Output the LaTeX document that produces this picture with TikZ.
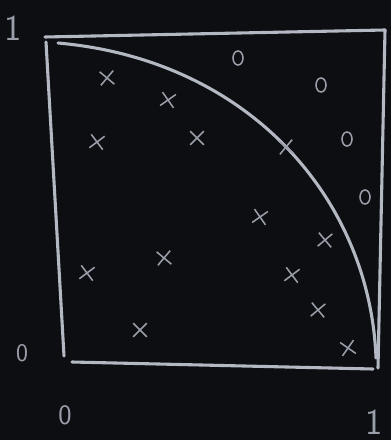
\documentclass[tikz,border=0pt]{standalone}
\usetikzlibrary{shapes.misc}
\definecolor{board}{HTML}{0C0E12}
\definecolor{chalk}{HTML}{B4B8C2}
\definecolor{dimchalk}{HTML}{9A9EA8}

\begin{document}
\begin{tikzpicture}[x=0.025cm,y=-0.025cm,
    frame/.style={chalk,line width=2.2pt,line cap=round},
    hit/.style={cross out,draw=dimchalk,line width=1.1pt,minimum size=0.3cm,inner sep=0pt},
    miss/.style={dimchalk,line width=1.1pt},
    lbl/.style={text=dimchalk,inner sep=0pt,font=\sffamily\fontsize{26}{26}\selectfont}]
    % chalkboard
    \fill[board] (0,0) rectangle (391,440);
    \clip (0,0) rectangle (391,440);
    % unit square, drawn by hand
    \coordinate (tl) at (45,37);
    \coordinate (tr) at (385,30);
    \coordinate (br) at (378,368);
    \coordinate (bl) at (64,356);
    \draw[frame] (tl) -- (tr);
    \draw[frame] (tr) -- (br);
    \draw[frame] (72,362) -- (373,369);
    \draw[frame] (46,42) -- (bl);
    % quarter circle
    \draw[frame] (58,43) .. controls (250,60) and (370,200) .. (376,358);
    % points inside
    \foreach \px/\py/\r in {107/78/5, 168/100/-10, 97/142/-8, 197/138/0,
        286/147/5, 87/273/-8, 164/258/5, 140/330/0, 260/217/-10,
        325/240/-5, 292/275/-8, 318/310/-5, 348/348/10}
      \node[hit,rotate=\r] at (\px,\py) {};
    % points outside
    \foreach \px/\py in {238/58, 321/85, 347/139, 365/197}
      \draw[miss] (\px,\py) ellipse[x radius=5,y radius=7];
    % axis labels
    \node[lbl] (ytop) at (13,28) {1};
    \node[lbl,font=\sffamily\fontsize{18}{18}\selectfont] (yzero) at (22,353) {0};
    \node[lbl,font=\sffamily\fontsize{20}{20}\selectfont] (xzero) at (65,415) {0};
    \node[lbl] (xone) at (374,422) {1};
\end{tikzpicture}
\end{document}
